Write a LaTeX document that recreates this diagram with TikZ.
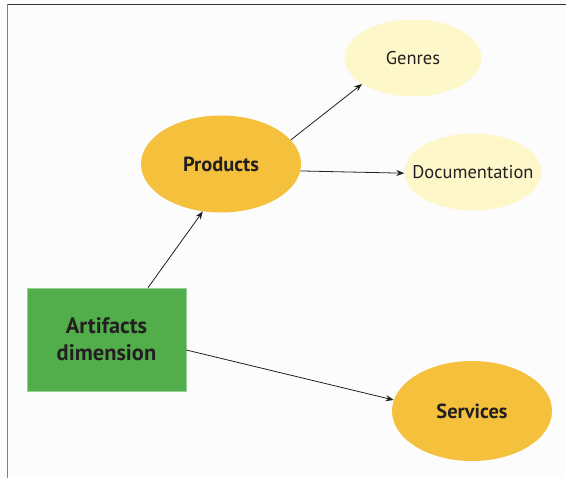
\documentclass[tikz,border=0pt]{standalone}
\usepackage{fontspec}
\setmainfont{PT Sans}
\usetikzlibrary{arrows.meta,shapes.geometric}
\definecolor{gold}{HTML}{F5C13C}
\definecolor{cream}{HTML}{FEF7C9}
\definecolor{leaf}{HTML}{52AE4B}
\definecolor{ink}{HTML}{231F20}
\tikzset{
  major/.style={ellipse, fill=gold, minimum width=160bp, minimum height=97bp, inner sep=0pt,
                font=\fontsize{20.5}{23}\selectfont\bfseries, text=ink},
  minor/.style={ellipse, fill=cream, minimum width=137bp, minimum height=77bp, inner sep=0pt,
                font=\fontsize{18.5}{21}\selectfont, text=ink},
  rootbox/.style={rectangle, fill=leaf, draw=leaf!60!white, line width=0.6bp,
                  minimum width=159bp, minimum height=103bp, inner sep=0pt, align=center,
                  font=\fontsize{22.5}{27}\selectfont\bfseries, text=ink},
  link/.style={draw=ink, line width=0.8bp, -{Stealth[length=8bp,width=6bp]}}
}
\begin{document}
\begin{tikzpicture}[x=1bp,y=-1bp]
  \useasboundingbox[fill=white!99!black] (0,0) rectangle (566,478);
  % frame lines along the top and left edges
  \draw[draw=black!80, line width=1bp] (7,4.5) -- (566,4.5);
  \draw[draw=black!50, line width=1bp] (7.5,4) -- (7.5,478);

  \node[rootbox] (art) at (106.5,339.5) {Artifacts\\dimension};
  \node[major] (prod) at (221,164) {Products};
  \node[major, minimum height=100bp] (serv) at (472,411) {Services};
  \node[minor] (gen) at (413,58) {Genres};
  % long label: pull the box in so the ellipse keeps its size
  \node[minor, inner xsep=-13bp] (doc) at (473,172) {Documentation};

  \draw[link] ([xshift=41.5bp]art.north) -- (prod.249);
  \draw[link] (prod.19) -- (gen.207);
  \draw[link] ([yshift=-10.5bp]art.east) -- (serv.172);
  \draw[link] (prod.355) -- (doc.181);
\end{tikzpicture}
\end{document}
